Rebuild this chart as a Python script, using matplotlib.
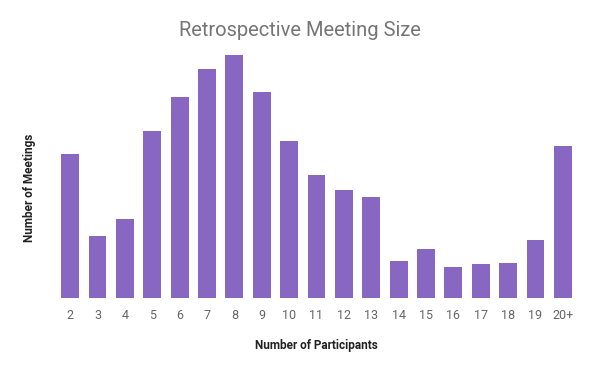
import numpy as np
import matplotlib.pyplot as plt

plt.rcParams['font.family'] = ['Roboto', 'DejaVu Sans']

participants = ['2', '3', '4', '5', '6', '7', '8', '9', '10', '11', '12', '13',
                '14', '15', '16', '17', '18', '19', '20+']
meetings = [144, 62, 79, 167, 201, 229, 243, 206, 157, 123, 108, 101,
            37, 49, 31, 34, 35, 58, 152]

fig = plt.figure(figsize=(6, 3.71), dpi=100)
ax = fig.add_axes([0.094, 0.197, 0.867, 0.674])

x = np.arange(len(participants))
ax.bar(x, meetings, width=0.65, color='#8767c1')

ax.set_xlim(-0.5, len(participants) - 0.5)
ax.set_ylim(0, 250)
ax.set_xticks(x)
ax.set_xticklabels(participants, fontsize=9, color='#666666')
ax.set_yticks([])
ax.tick_params(axis='x', length=0, pad=8)
for s in ax.spines.values():
    s.set_visible(False)

ax.set_xlabel('Number of Participants', fontsize=8.5, fontweight='bold',
              color='#222222', labelpad=12)
ax.set_ylabel('Number of Meetings', fontsize=8.5, fontweight='bold',
              color='#222222')
# label sits a bit below the axes middle in the reference
ax.yaxis.set_label_coords(-0.039, 0.44)
fig.text(0.5, 0.917, 'Retrospective Meeting Size', ha='center', va='center',
         fontsize=14.5, color='#757575')

fig.savefig('out.png', dpi=100)
